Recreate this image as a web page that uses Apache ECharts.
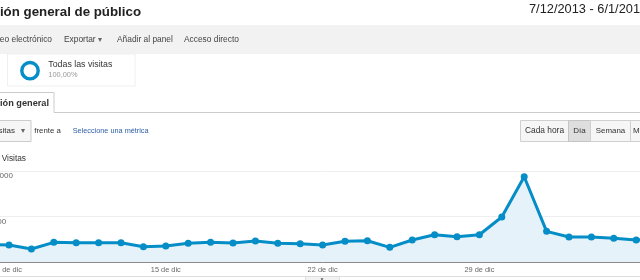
<!DOCTYPE html>
<html><head><meta charset="utf-8">
<script src="https://cdn.jsdelivr.net/npm/echarts@6/dist/echarts.min.js"></script>
<style>html,body{margin:0;padding:0;background:#fff;overflow:hidden;width:640px;height:280px;position:relative}#c{position:absolute;left:-14px;top:0;width:680px;height:280px}</style>
</head><body><div id="c"></div>
<script>
const categories = ["7 de dic","8 de dic","9 de dic","10 de dic","11 de dic","12 de dic","13 de dic","14 de dic","15 de dic","16 de dic","17 de dic","18 de dic","19 de dic","20 de dic","21 de dic","22 de dic","23 de dic","24 de dic","25 de dic","26 de dic","27 de dic","28 de dic","29 de dic","30 de dic","31 de dic","1 de ene","2 de ene","3 de ene","4 de ene","5 de ene","6 de ene"];
const visitas = [192,187,143,216,212,212,212,168,176,205,216,209,231,205,201,187,227,234,161,242,300,278,300,495,937,337,275,275,260,242,250];
const yTicks = {500:"500",1000:"1.000"};
const shownLabels = [1,8,15,22];

const F = '"Liberation Sans", Arial, sans-serif';
const BLUE = '#058dc7';
const OX = 14; // container offset
function txt(x,y,text,size,color,opts){
  opts = opts||{};
  return {type:'text', x:x+OX, y:y, z:10, style:{text:text, font:(opts.bold?'bold ':'')+size+'px '+F, fill:color, align:opts.align||'left', verticalAlign:'middle'}};
}
function rect(x,y,w,h,fill,stroke){
  return {type:'rect', z:5, shape:{x:x+OX,y:y,width:w,height:h}, style:{fill:fill, stroke:stroke||null, lineWidth:1}};
}
const graphics = [
  txt(141,12.5,'ión general de público',13.3,'#222',{bold:true,align:'right'}),
  txt(529,9,'7/12/2013 - 6/1/201',12.8,'#222'),
  rect(0,25,640,29,'#f2f2f2'),
  txt(52,39.3,'eo electrónico',8.4,'#444',{align:'right'}),
  txt(64,39.3,'Exportar',8.4,'#444'),
  txt(98,39.3,'▾',8,'#666'),
  txt(117,39.3,'Añadir al panel',8.4,'#444'),
  txt(184,39.3,'Acceso directo',8.4,'#444'),
  rect(7.5,54,127.5,32,'#fff','#f0f0f0'),
  {type:'circle', z:10, shape:{cx:30+OX,cy:70.7,r:8.2}, style:{fill:null, stroke:BLUE, lineWidth:3.4}},
  txt(48.3,65,'Todas las visitas',8.8,'#333'),
  txt(48.3,75,'100,00%',7.4,'#999'),
  {type:'polyline', z:6, shape:{points:[[-2+OX,112.5],[-2+OX,92.5],[54+OX,92.5],[54+OX,112.5],[640+OX,112.5]]}, style:{stroke:'#ccc', fill:null, lineWidth:1}},
  txt(49,103.3,'ión general',9.2,'#333',{bold:true,align:'right'}),
  rect(-2,120.5,33,21,'#f6f6f6','#ccc'),
  txt(15,131,'sitas',8,'#333',{align:'right'}),
  txt(23,131,'▾',8,'#666',{align:'center'}),
  txt(34.3,131,'frente a',7.8,'#333'),
  txt(72.7,131,'Seleccione una métrica',7.3,'#2f5ea8'),
  rect(520.5,120.5,48,21,'#f6f6f6','#d0d0d0'),
  rect(568.5,120.5,22,21,'#dedede','#c4c4c4'),
  rect(590.5,120.5,40,21,'#f6f6f6','#d0d0d0'),
  rect(630.5,120.5,20,21,'#f6f6f6','#d0d0d0'),
  txt(544.5,131,'Cada hora',8.4,'#333',{align:'center'}),
  txt(579.5,131,'Día',8,'#333',{align:'center'}),
  txt(610.5,131,'Semana',7.9,'#333',{align:'center'}),
  txt(633,131,'M',8,'#333'),
  txt(1.7,159,'Visitas',8.3,'#333'),
  {type:'line', z:5, shape:{x1:OX,y1:276.5,x2:640+OX,y2:276.5}, style:{stroke:'#ddd', lineWidth:1}},
  rect(305.5,276.5,34,6,'#f2f2f2','#ddd'),
  txt(322,279.5,'▼',5,'#666',{align:'center'})
];

const chart = echarts.init(document.getElementById('c'), null, {renderer:'canvas'});
chart.setOption({
  animation:false,
  backgroundColor:'#fff',
  grid:{left:0.6, right:7.4, top:171, bottom:18, containLabel:false},
  xAxis:{
    type:'category', data:categories, boundaryGap:false,
    axisLine:{show:true, lineStyle:{color:'#8a8a8a', width:1}},
    axisTick:{show:false},
    splitLine:{show:false},
    axisLabel:{
      interval:function(i){return shownLabels.indexOf(i)>=0;},
      margin:4, fontSize:7.4, color:'#666', fontFamily:F
    }
  },
  yAxis:{
    type:'value', min:0, max:1000, interval:500,
    axisLine:{show:false}, axisTick:{show:false},
    splitLine:{lineStyle:{color:'#eeeeee', width:1}},
    axisLabel:{
      inside:true, align:'left', verticalAlign:'top', margin:6.3,
      showMinLabel:false, fontSize:8, color:'#666', fontFamily:F,
      padding:[1,0,0,0],
      formatter:function(v){return yTicks[v]||'';}
    }
  },
  series:[{
    type:'line', data:visitas,
    symbol:'circle', symbolSize:7, showAllSymbol:true,
    lineStyle:{color:BLUE, width:3},
    itemStyle:{color:BLUE},
    areaStyle:{color:'#e6f2f9', opacity:1}
  }],
  graphic:graphics
});
</script></body></html>
